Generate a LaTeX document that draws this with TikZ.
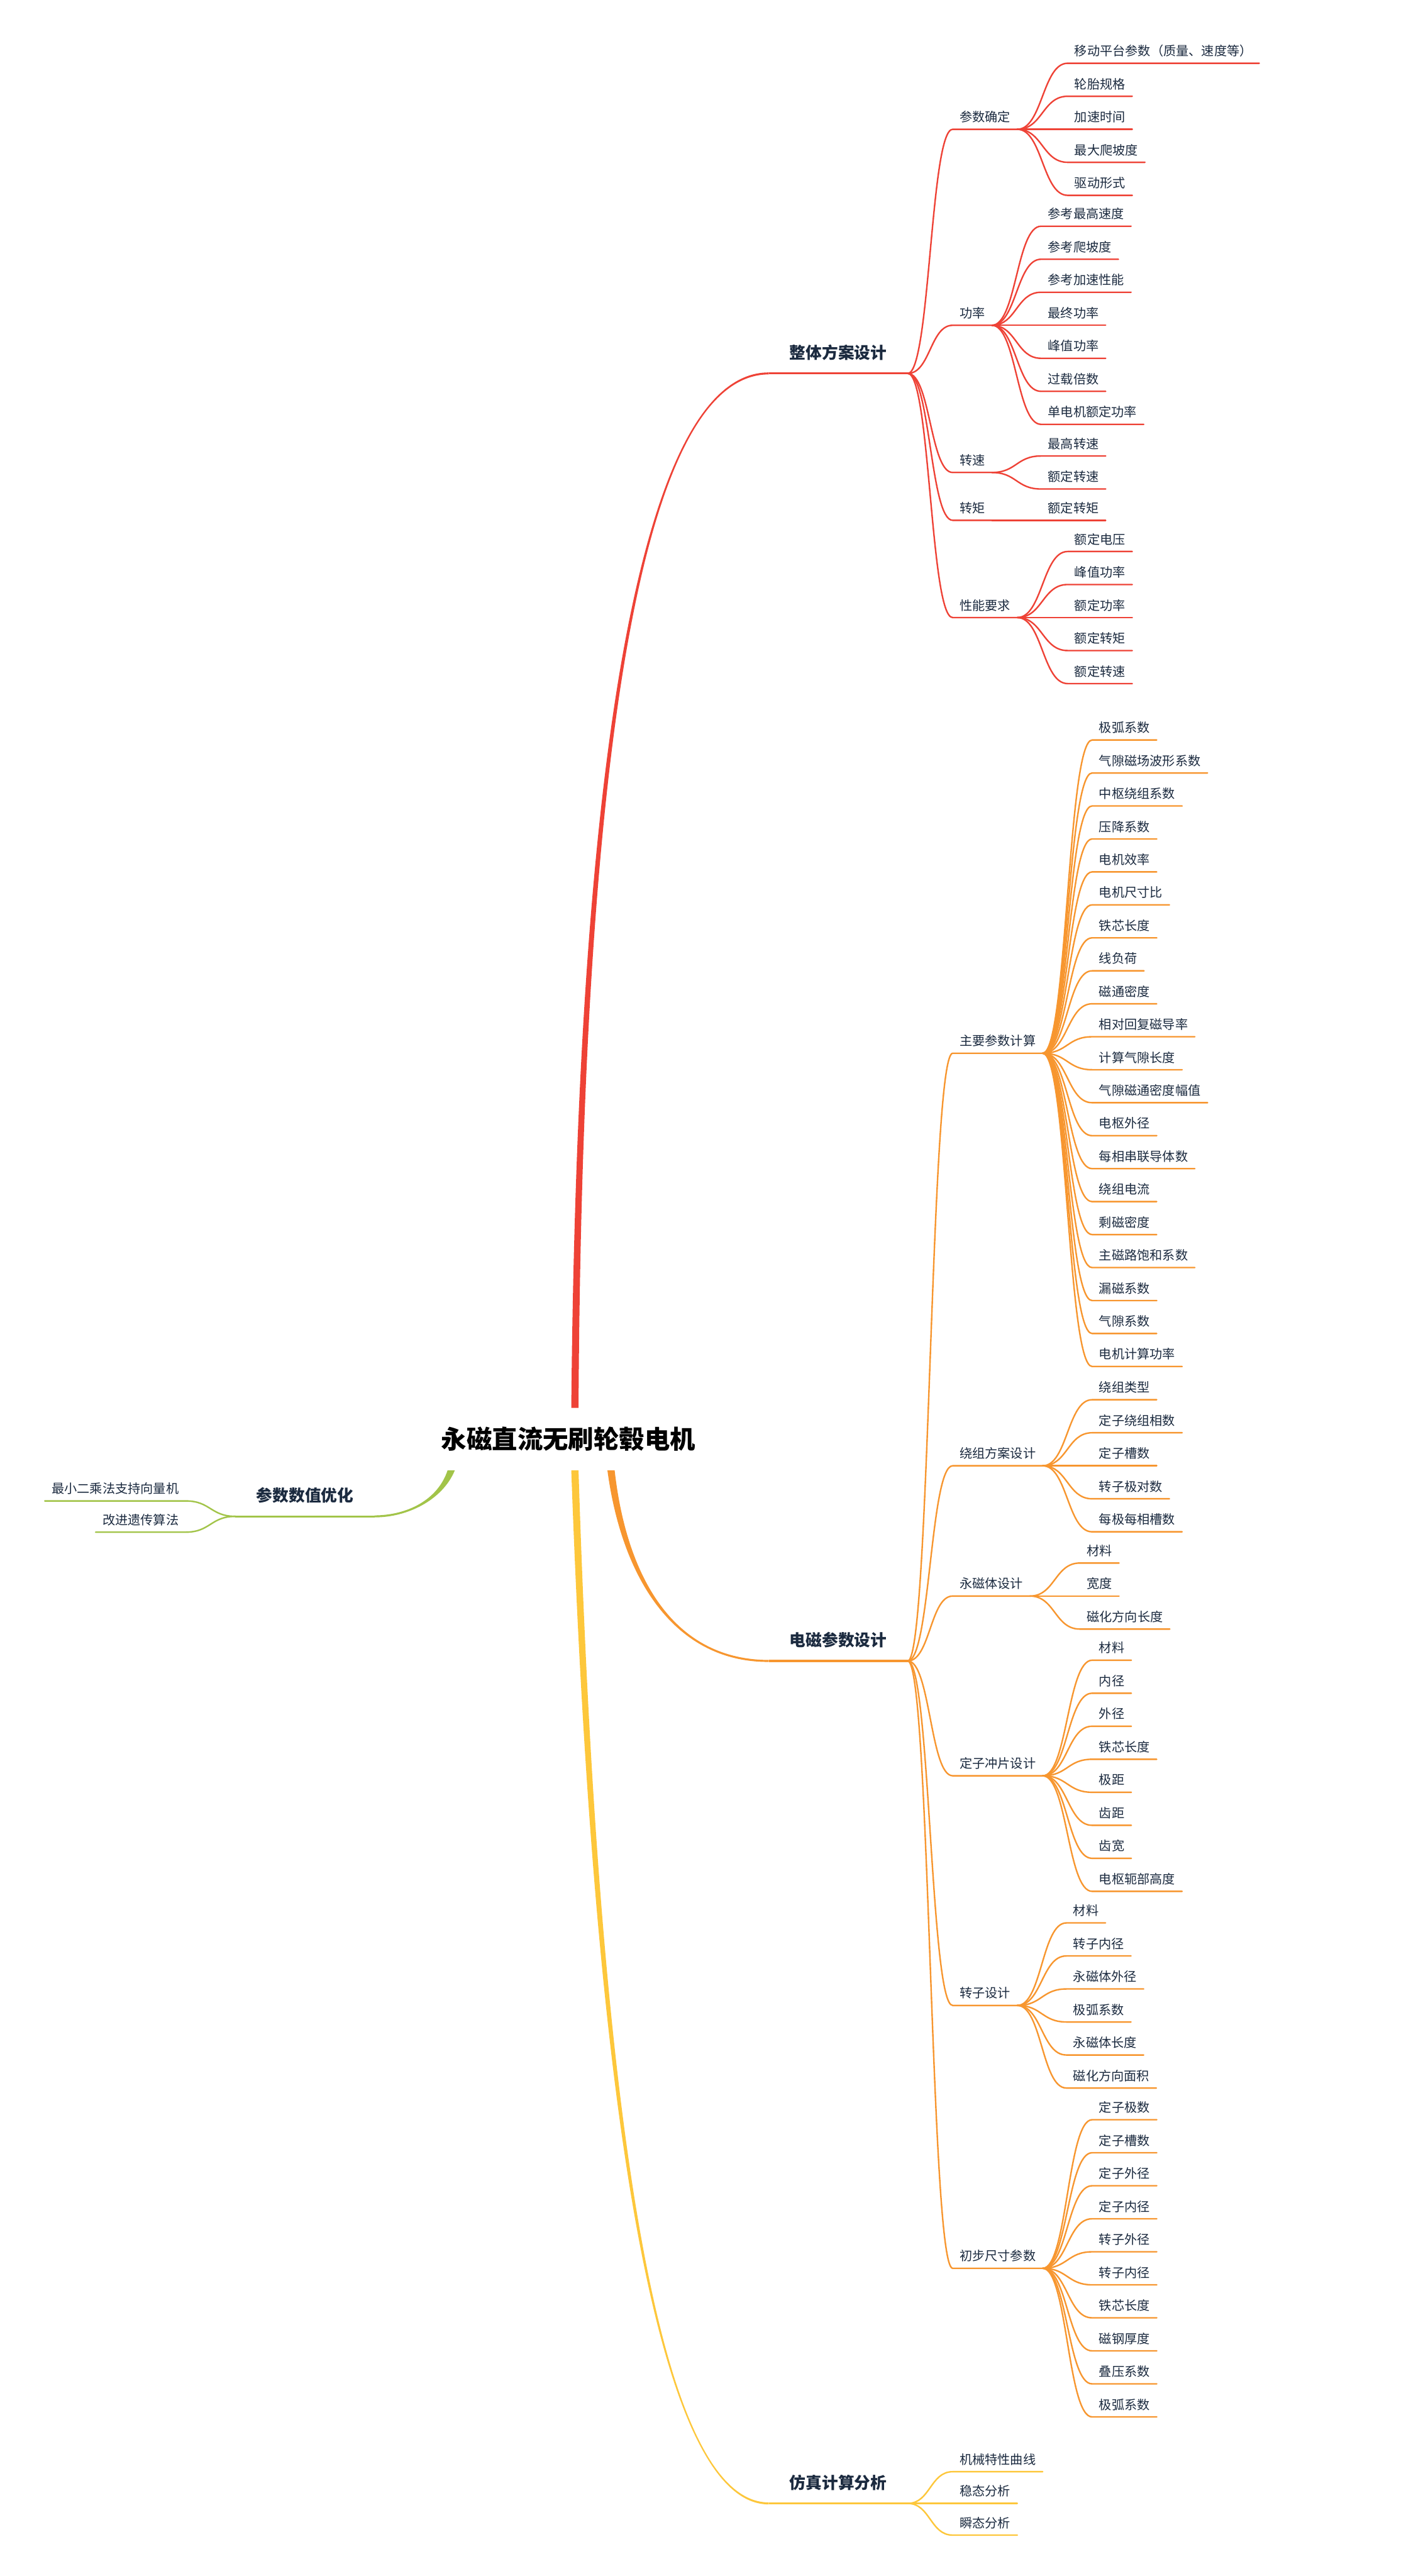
\documentclass[tikz,border=0pt]{standalone}
\usepackage{fontspec}
\setmainfont{Noto Sans CJK SC}
\usepackage{tikz}
\usetikzlibrary{calc}

\definecolor{mmred}{HTML}{EE4236}
\definecolor{mmorange}{HTML}{F7962F}
\definecolor{mmyellow}{HTML}{FDC73B}
\definecolor{mmgreen}{HTML}{A2C449}
\definecolor{mmtext}{HTML}{1B2A3F}

% tapered main branch: colour, start, control 1, control 2, end, side
\newcommand{\trunk}[6]{%
  \fill[#1] ($(#2)+(-2.2,0)$) .. controls ($(#3)+(-1.5,0)$) and ($(#4)+(0,-0.7*#6)$) .. ($(#5)+(0,-0.6*#6)$)
    -- ($(#5)+(0,0.6*#6)$) .. controls ($(#4)+(0,0.7*#6)$) and ($(#3)+(1.5,0)$) .. ($(#2)+(2.2,0)$) -- cycle;}

\begin{document}
\begin{tikzpicture}[x=0.5mm, y=-0.5mm,
	item/.style={anchor=south west, inner xsep=2.1mm, inner ysep=6.5pt, outer sep=0pt, text depth=0pt, text=mmtext, font=\fontsize{11pt}{13pt}\selectfont},
	topic/.style={anchor=south west, inner xsep=6.4mm, inner ysep=12.6pt, outer sep=0pt, text depth=0pt, text=mmtext, font=\fontsize{14pt}{16pt}\selectfont\bfseries},
	fork/.style={line width=1.3pt, line cap=round, to path={let \p1=(\tikztostart), \p2=(\tikztotarget) in .. controls ({(\x1+\x2)/2},\y1) and ({(\x1+\x2)/2},\y2) .. (\tikztotarget)}},
	bar/.style={line width=1.7pt}
	]
	\useasboundingbox (0,0) rectangle (859,1568);

	\node[font=\fontsize{22pt}{26pt}\selectfont\bfseries, text=black, inner xsep=0pt, minimum height=19mm, outer sep=0pt] (root) at (346,876) {永磁直流无刷轮毂电机};
	\coordinate (rN) at ([xshift=2mm]root.north);
	\coordinate (rS) at ([xshift=2mm]root.south);
	\coordinate (rSE) at ([xshift=13mm]root.south);
	\coordinate (rSW) at ([xshift=3mm]root.south west);

	\node[topic] (overall) at (468,227.3) {整体方案设计};
	\node[topic] (emag) at (468,1011) {电磁参数设计};
	\node[topic] (simu) at (468,1523.8) {仿真计算分析};
	\node[topic, anchor=south east] (optim) at (228,923) {参数数值优化};

	\trunk{mmred}{rN}{353,450}{392,227.3}{overall.south west}{1}
	\trunk{mmorange}{rSE}{380,960}{410,1011}{emag.south west}{-1}
	\trunk{mmyellow}{rS}{362,1250}{395,1523.8}{simu.south west}{-1}
	\trunk{mmgreen}{rSW}{268,913}{248,923}{optim.south east}{1}

	\draw[bar, mmred] (overall.south west) -- (overall.south east);
	\draw[bar, mmorange] (emag.south west) -- (emag.south east);
	\draw[bar, mmyellow] (simu.south west) -- (simu.south east);
	\draw[bar, mmgreen] (optim.south west) -- (optim.south east);

	% 整体方案设计
	\node[item] (param) at (580,78.7) {参数确定};
	\node[item] (power) at (580,198) {功率};
	\node[item] (speed) at (580,287.6) {转速};
	\node[item] (torque) at (580,316.7) {转矩};
	\node[item] (perf) at (580,375.9) {性能要求};
	\foreach \sub in {param,power,speed,torque,perf}
		\draw[fork, mmred] (overall.south east) to (\sub.south west) -- (\sub.south east);

	\foreach \t [count=\i] in {移动平台参数（质量、速度等）,轮胎规格,加速时间,最大爬坡度,驱动形式}{
		\node[item] (param-\i) at (650,{78.7+(\i-3)*20.1}) {\t};
		\draw[fork, mmred] (param.south east) to (param-\i.south west) -- (param-\i.south east);
	}
	\foreach \t [count=\i] in {参考最高速度,参考爬坡度,参考加速性能,最终功率,峰值功率,过载倍数,单电机额定功率}{
		\node[item] (power-\i) at (633.8,{198+(\i-4)*20.1}) {\t};
		\draw[fork, mmred] (power.south east) to (power-\i.south west) -- (power-\i.south east);
	}
	\foreach \t [count=\i] in {最高转速,额定转速}{
		\node[item] (speed-\i) at (633.8,{287.6+(\i-1.5)*20.1}) {\t};
		\draw[fork, mmred] (speed.south east) to (speed-\i.south west) -- (speed-\i.south east);
	}
	\node[item] (torque-1) at (633.8,316.7) {额定转矩};
	\draw[fork, mmred] (torque.south east) to (torque-1.south west) -- (torque-1.south east);
	\foreach \t [count=\i] in {额定电压,峰值功率,额定功率,额定转矩,额定转速}{
		\node[item] (perf-\i) at (650,{375.9+(\i-3)*20.1}) {\t};
		\draw[fork, mmred] (perf.south east) to (perf-\i.south west) -- (perf-\i.south east);
	}

	% 电磁参数设计
	\node[item] (mainp) at (580,641.1) {主要参数计算};
	\node[item] (wind) at (580,892.2) {绕组方案设计};
	\node[item] (magnet) at (580,971.5) {永磁体设计};
	\node[item] (stator) at (580,1080.9) {定子冲片设计};
	\node[item] (rotor) at (580,1220.7) {转子设计};
	\node[item] (size) at (580,1380.7) {初步尺寸参数};
	\foreach \sub in {mainp,wind,magnet,stator,rotor,size}
		\draw[fork, mmorange] (emag.south east) to (\sub.south west) -- (\sub.south east);

	\foreach \t [count=\i] in {极弧系数,气隙磁场波形系数,中枢绕组系数,压降系数,电机效率,电机尺寸比,铁芯长度,线负荷,磁通密度,相对回复磁导率,计算气隙长度,气隙磁通密度幅值,电枢外径,每相串联导体数,绕组电流,剩磁密度,主磁路饱和系数,漏磁系数,气隙系数,电机计算功率}{
		\node[item] (mainp-\i) at (664.9,{641.1+(\i-10.5)*20.07}) {\t};
		\draw[fork, mmorange] (mainp.south east) to (mainp-\i.south west) -- (mainp-\i.south east);
	}
	\foreach \t [count=\i] in {绕组类型,定子绕组相数,定子槽数,转子极对数,每极每相槽数}{
		\node[item] (wind-\i) at (664.9,{892.2+(\i-3)*20.1}) {\t};
		\draw[fork, mmorange] (wind.south east) to (wind-\i.south west) -- (wind-\i.south east);
	}
	\foreach \t [count=\i] in {材料,宽度,磁化方向长度}{
		\node[item] (magnet-\i) at (657.4,{971.5+(\i-2)*20.1}) {\t};
		\draw[fork, mmorange] (magnet.south east) to (magnet-\i.south west) -- (magnet-\i.south east);
	}
	\foreach \t [count=\i] in {材料,内径,外径,铁芯长度,极距,齿距,齿宽,电枢轭部高度}{
		\node[item] (stator-\i) at (664.9,{1080.9+(\i-4.5)*20.1}) {\t};
		\draw[fork, mmorange] (stator.south east) to (stator-\i.south west) -- (stator-\i.south east);
	}
	\foreach \t [count=\i] in {材料,转子内径,永磁体外径,极弧系数,永磁体长度,磁化方向面积}{
		\node[item] (rotor-\i) at (649.2,{1220.7+(\i-3.5)*20.1}) {\t};
		\draw[fork, mmorange] (rotor.south east) to (rotor-\i.south west) -- (rotor-\i.south east);
	}
	\foreach \t [count=\i] in {定子极数,定子槽数,定子外径,定子内径,转子外径,转子内径,铁芯长度,磁钢厚度,叠压系数,极弧系数}{
		\node[item] (size-\i) at (664.9,{1380.7+(\i-5.5)*20.1}) {\t};
		\draw[fork, mmorange] (size.south east) to (size-\i.south west) -- (size-\i.south east);
	}

	% 仿真计算分析
	\foreach \t [count=\i] in {机械特性曲线,稳态分析,瞬态分析}{
		\node[item] (simu-\i) at (580,{1523.8+(\i-2)*19.3}) {\t};
		\draw[fork, mmyellow] (simu.south east) to (simu-\i.south west) -- (simu-\i.south east);
	}

	% 参数数值优化
	\node[item, anchor=south east] (optim-1) at (113,913.6) {最小二乘法支持向量机};
	\node[item, anchor=south east] (optim-2) at (113,932.6) {改进遗传算法};
	\draw[fork, mmgreen] (optim.south west) to (optim-1.south east) -- (optim-1.south west);
	\draw[fork, mmgreen] (optim.south west) to (optim-2.south east) -- (optim-2.south west);
\end{tikzpicture}
\end{document}
